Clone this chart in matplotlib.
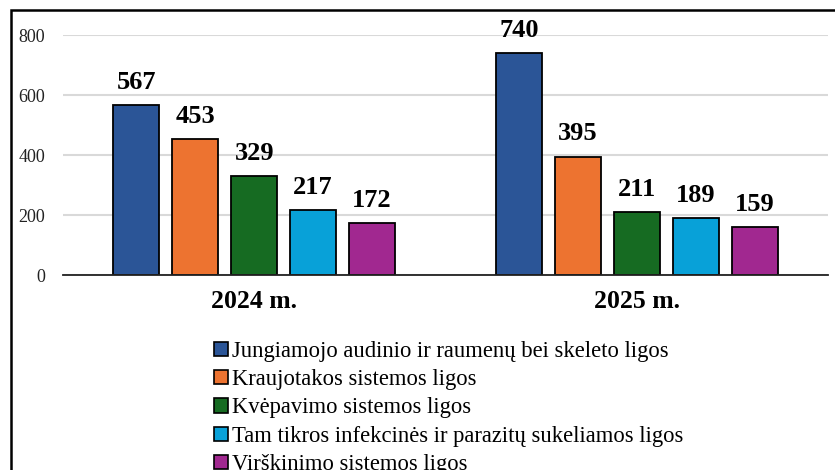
import numpy as np
import matplotlib.pyplot as plt
from matplotlib.patches import Patch, Rectangle

# --- Data ---
years = ['2024 m.', '2025 m.']
groups = [
    'Jungiamojo audinio ir raumenų bei skeleto ligos',
    'Kraujotakos sistemos ligos',
    'Kvėpavimo sistemos ligos',
    'Tam tikros infekcinės ir parazitų sukeliamos ligos',
    'Virškinimo sistemos ligos',
]
values_2024 = [567, 453, 329, 217, 172]
values_2025 = [740, 395, 211, 189, 159]
colors = ['#2B5597', '#ED7330', '#166B22', '#08A1D8', '#A12890']

plt.rcParams['font.family'] = ['Liberation Serif', 'DejaVu Serif']

fig = plt.figure(figsize=(8.35, 4.7), dpi=100)
ax = fig.add_axes([63 / 835, 1 - 275 / 470, 765 / 835, 240 / 470])

x = np.arange(len(years))
step = 0.154
width = 0.12
data = np.array([values_2024, values_2025])
for i, name in enumerate(groups):
    pos = x + (i - 2) * step
    bars = ax.bar(pos, data[:, i], width, color=colors[i], edgecolor='black',
                  linewidth=1.3, zorder=3)
    for b, v in zip(bars, data[:, i]):
        ax.annotate(str(v), (b.get_x() + b.get_width() / 2, v), xytext=(0, 8),
                    textcoords='offset points', ha='center', va='bottom',
                    fontsize=19, fontweight='bold')

ax.set_xlim(-0.5, 1.5)
ax.set_ylim(0, 800)
ax.set_yticks([0, 200, 400, 600, 800])
ax.yaxis.grid(True, color='#D9D9D9', linewidth=1.5, zorder=0)
ax.set_axisbelow(True)
for s in ['top', 'right', 'left']:
    ax.spines[s].set_visible(False)
ax.spines['bottom'].set_color('#222222')
ax.spines['bottom'].set_linewidth(1.3)
ax.spines['bottom'].set_zorder(4)
ax.tick_params(axis='both', length=0)
ax.tick_params(axis='y', labelsize=13, pad=13, colors='#222222')
ax.set_xticks(x)
ax.set_xticklabels(years, fontsize=18.5, fontweight='bold')
ax.tick_params(axis='x', pad=11)

# legend runs past the bottom edge, as in the original
handles = [Patch(facecolor=c, edgecolor='black', linewidth=1.2) for c in colors]
fig.legend(handles, groups, loc='upper left', bbox_to_anchor=(214 / 835, 1 - 341 / 470),
           frameon=False, fontsize=16.3, handlelength=0.6, handleheight=0.58,
           handletextpad=0.2, labelspacing=0.32, borderaxespad=0, borderpad=0)

# outer frame
fig.patches.append(Rectangle((11 / 835, -0.1), 1.2, 1.1 - 10 / 470,
                             transform=fig.transFigure, fill=False,
                             edgecolor='black', linewidth=1.8))

fig.savefig('out.png', dpi=100)
